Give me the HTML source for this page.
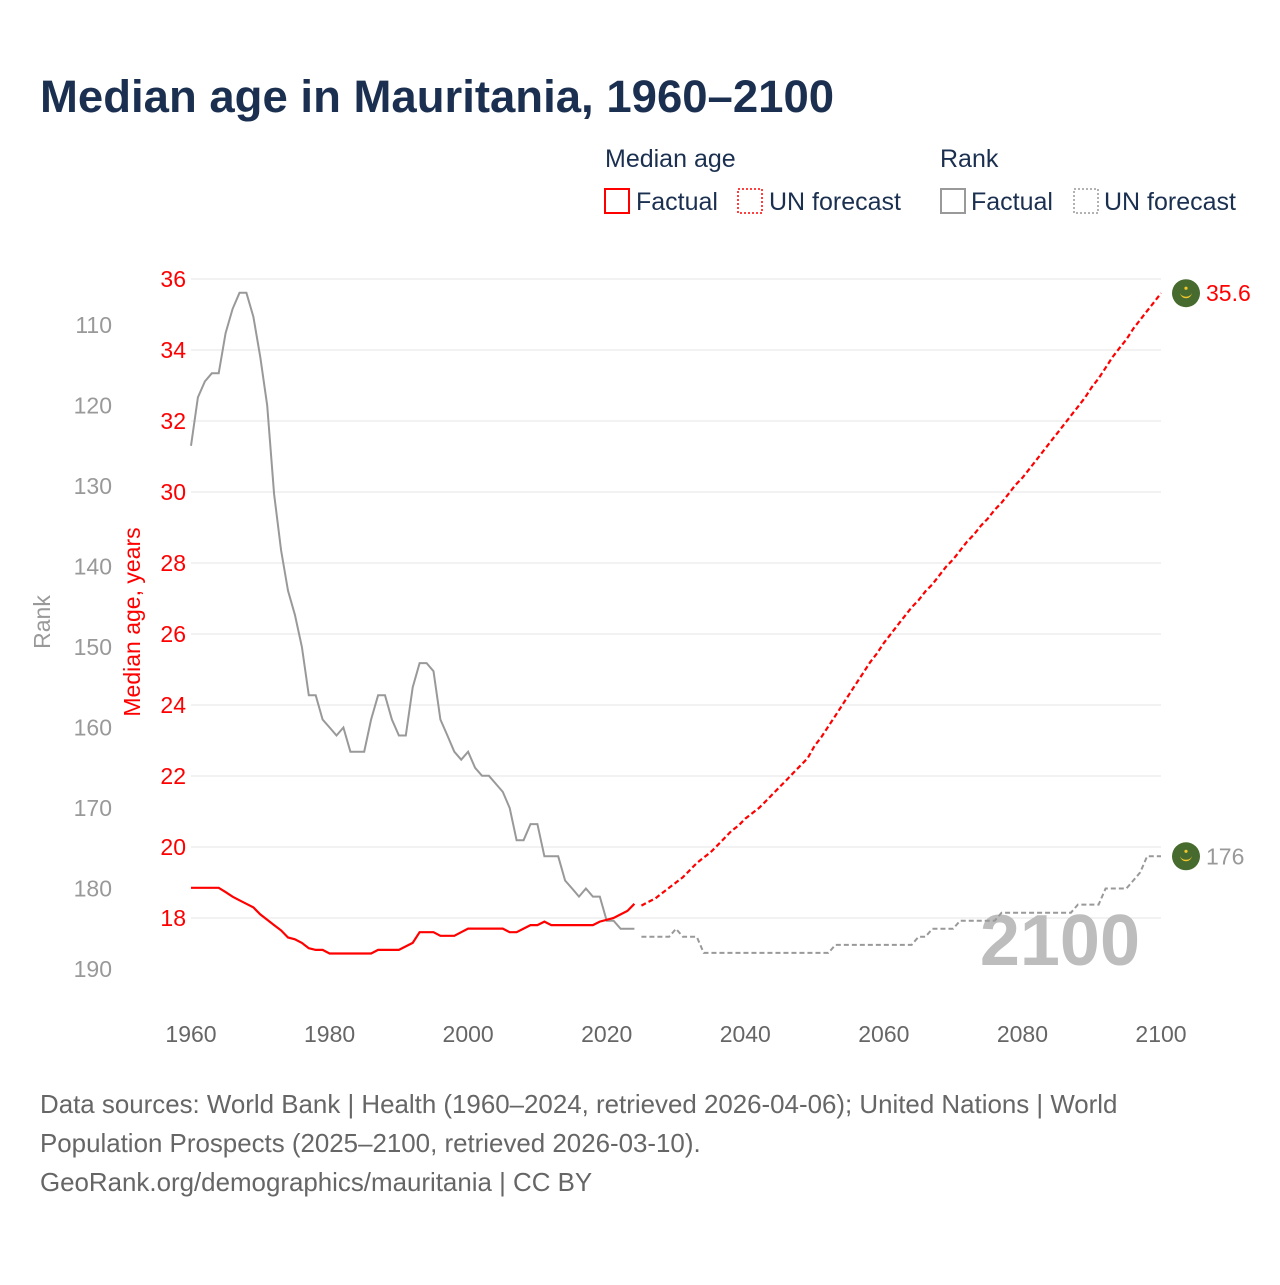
<!DOCTYPE html>
<html><head><meta charset="utf-8"><style>
body{margin:0;background:#fff;}
svg text{font-family:"Liberation Sans",sans-serif;}
</style></head><body>
<svg id="chart" width="1280" height="1280" viewBox="0 0 1280 1280" xmlns="http://www.w3.org/2000/svg">
<text x="40" y="112" font-size="45.5" font-weight="bold" fill="#1b3050">Median age in Mauritania, 1960–2100</text>
<g font-size="25" fill="#1b3050">
<text x="605" y="167">Median age</text>
<text x="940" y="167">Rank</text>
<rect x="605" y="189" width="24" height="24" fill="none" stroke="red" stroke-width="2"/>
<text x="636" y="210">Factual</text>
<rect x="738" y="189" width="24" height="24" fill="none" stroke="red" stroke-width="1.5" stroke-dasharray="2,2"/>
<text x="769" y="210">UN forecast</text>
<rect x="941" y="189" width="24" height="24" fill="none" stroke="#999" stroke-width="2"/>
<text x="971" y="210">Factual</text>
<rect x="1074" y="189" width="24" height="24" fill="none" stroke="#999" stroke-width="1.5" stroke-dasharray="2,2"/>
<text x="1104" y="210">UN forecast</text>
</g>
<g id="grid"></g>
<text x="1140" y="965" text-anchor="end" font-size="72" font-weight="bold" fill="#bdbdbd">2100</text>
<g id="axes"></g>
<g id="series"></g>
<text transform="translate(140,622) rotate(-90)" text-anchor="middle" font-size="23" fill="red">Median age, years</text>
<text transform="translate(50,622) rotate(-90)" text-anchor="middle" font-size="23" fill="#999">Rank</text>
<g font-size="25.9" fill="#666">
<text x="40" y="1113">Data sources: World Bank | Health (1960–2024, retrieved 2026-04-06); United Nations | World</text>
<text x="40" y="1152">Population Prospects (2025–2100, retrieved 2026-03-10).</text>
<text x="40" y="1191">GeoRank.org/demographics/mauritania | CC BY</text>
</g>
</svg>
<script>
const ageFactual=[18.85,18.85,18.85,18.85,18.85,18.73,18.6,18.5,18.4,18.3,18.1,17.95,17.8,17.65,17.45,17.4,17.3,17.15,17.1,17.1,17.0,17.0,17.0,17.0,17.0,17.0,17.0,17.1,17.1,17.1,17.1,17.2,17.3,17.6,17.6,17.6,17.5,17.5,17.5,17.6,17.7,17.7,17.7,17.7,17.7,17.7,17.6,17.6,17.7,17.8,17.8,17.9,17.8,17.8,17.8,17.8,17.8,17.8,17.8,17.9,17.95,18.0,18.1,18.2,18.4];
const ageForecast=[18.35,18.45,18.55,18.7,18.85,19.0,19.15,19.35,19.55,19.7,19.85,20.05,20.25,20.45,20.6,20.8,20.95,21.1,21.3,21.5,21.7,21.9,22.1,22.3,22.5,22.85,23.1,23.4,23.7,24.0,24.3,24.6,24.9,25.2,25.45,25.75,26.0,26.25,26.5,26.75,26.95,27.2,27.4,27.65,27.9,28.1,28.35,28.6,28.8,29.05,29.25,29.5,29.7,29.95,30.2,30.4,30.65,30.9,31.15,31.4,31.65,31.9,32.15,32.4,32.65,32.95,33.2,33.5,33.8,34.05,34.3,34.6,34.85,35.1,35.35,35.6];
const rankFactual=[125,119,117,116,116,111,108,106,106,109,114,120,131,138,143,146,150,156,156,159,160,161,160,163,163,163,159,156,156,159,161,161,155,152,152,153,159,161,163,164,163,165,166,166,167,168,170,174,174,172,172,176,176,176,179,180,181,180,181,181,184,184,185,185,185];
const rankForecast=[186,186,186,186,186,185,186,186,186,188,188,188,188,188,188,188,188,188,188,188,188,188,188,188,188,188,188,188,187,187,187,187,187,187,187,187,187,187,187,187,186,186,185,185,185,185,184,184,184,184,184,184,183,183,183,183,183,183,183,183,183,183,183,182,182,182,182,180,180,180,180,179,178,176,176,176];
const ageTicks=[18,20,22,24,26,28,30,32,34,36];
const rankTicks=[110,120,130,140,150,160,170,180,190];
const yearTicks=[1960,1980,2000,2020,2040,2060,2080,2100];
const NS="http://www.w3.org/2000/svg";
const X=y=>191+(y-1960)*(970/140);
const YA=a=>918-(a-18)*(639/18);
const YR=r=>325+(r-110)*(644/80);
function el(tag,attrs,parent,txt){const e=document.createElementNS(NS,tag);for(const k in attrs)e.setAttribute(k,attrs[k]);if(txt!==undefined)e.textContent=txt;parent.appendChild(e);return e;}
const grid=document.getElementById('grid'),axes=document.getElementById('axes'),series=document.getElementById('series');
ageTicks.forEach(t=>{
 const l=el('line',{x1:191,x2:1161,y1:YA(t),y2:YA(t),stroke:'#e6e6e6','stroke-width':1},grid);
 
 
 const tx=el('text',{x:186,y:YA(t)+8,'text-anchor':'end','font-size':23,fill:'red'},axes,String(t));
 
 
});
rankTicks.forEach(t=>{
 const tx=el('text',{x:112,y:YR(t)+8,'text-anchor':'end','font-size':23,fill:'#999'},axes,String(t));
 
 
});
yearTicks.forEach(t=>{
 const tx=el('text',{x:X(t),y:1042,'text-anchor':'middle','font-size':23,fill:'#666'},axes,String(t));
 
 
});
function pts(arr,start,yf){return arr.map((v,i)=>X(start+i).toFixed(1)+','+yf(v).toFixed(1)).join(' ');}
let p;
p=el('polyline',{points:pts(rankFactual,1960,YR),fill:'none',stroke:'#999','stroke-width':2},series);


p=el('polyline',{points:pts(rankForecast,2025,YR),fill:'none',stroke:'#999','stroke-width':2,'stroke-dasharray':'5,3'},series);


p=el('polyline',{points:pts(ageFactual,1960,YA),fill:'none',stroke:'red','stroke-width':2.2},series);


p=el('polyline',{points:pts(ageForecast,2025,YA),fill:'none',stroke:'red','stroke-width':2.2,'stroke-dasharray':'5,3'},series);


function marker(yv,label,color,name){
 const g=el('g',{},series);
 
 
 el('circle',{cx:1186,cy:yv,r:14,fill:'#476a2e'},g);
 el('path',{d:`M1180,${yv-1} A6,6 0 0 0 1192,${yv-1} A6,4.5 0 0 1 1180,${yv-1}Z`,fill:'#f2c72b'},g);
 el('circle',{cx:1186,cy:yv-5,r:1.6,fill:'#f2c72b'},g);
 el('text',{x:1206,y:yv+8,'font-size':23,fill:color},g,label);
}
marker(YA(ageForecast[ageForecast.length-1]),String(ageForecast[ageForecast.length-1]),'red','age-end-marker');
marker(YR(rankForecast[rankForecast.length-1]),String(rankForecast[rankForecast.length-1]),'#999','rank-end-marker');
</script>
</body></html>
